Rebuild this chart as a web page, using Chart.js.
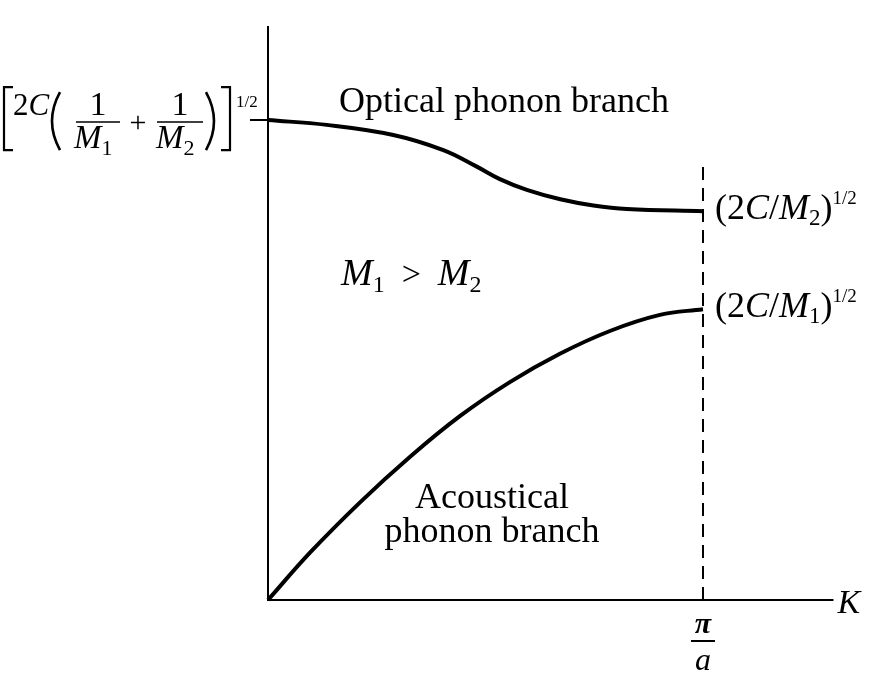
<!DOCTYPE html>
<html>
<head>
<meta charset="utf-8">
<script src="https://cdn.jsdelivr.net/npm/chart.js@4/dist/chart.umd.min.js"></script>
<style>body{margin:0;background:#fff}</style>
</head>
<body>
<canvas id="grafico" width="876" height="690"></canvas>
<script>
// K en unidades de pi/a, omega en unidades de [2C(1/M1+1/M2)]^1/2
const kOptica = [0, 0.135, 0.288, 0.403, 0.480, 0.533, 0.595, 0.672, 0.748, 0.825, 1.0];
const wOptica = [1.0, 0.990, 0.969, 0.9375, 0.903, 0.877, 0.8545, 0.835, 0.822, 0.8146, 0.810];
const kAcustica = [0, 0.097, 0.211, 0.326, 0.441, 0.556, 0.671, 0.786, 0.901, 1.0];
const wAcustica = [0, 0.099, 0.203, 0.298, 0.383, 0.454, 0.513, 0.5605, 0.594, 0.606];
const kZona = [1, 1];
const wZona = [0, 0.9125];
const kMax = 1.3;
const wMax = 1.196;

const SERIF = '"Liberation Serif", "DejaVu Serif", serif';

function puntos(xs, ys) {
    return xs.map((x, i) => ({ x: x, y: ys[i] }));
}

// dibuja trozos de texto seguidos: [texto, fuente, desplazamiento vertical]
function trozos(ctx, x, y, partes) {
    partes.forEach(p => {
        ctx.font = p[1];
        ctx.fillText(p[0], x, y + (p[2] || 0));
        x += ctx.measureText(p[0]).width;
    });
    return x;
}

const ejesPlugin = {
    id: 'ejes',
    afterDatasetsDraw(chart) {
        const ctx = chart.ctx;
        const sx = chart.scales.x, sy = chart.scales.y;
        const x0 = sx.getPixelForValue(0), y0 = sy.getPixelForValue(0);
        const xEnd = sx.getPixelForValue(kMax), yTop = sy.getPixelForValue(wMax);
        const xZ = sx.getPixelForValue(1);
        const yOpt0 = sy.getPixelForValue(wOptica[0]);
        const yOpt1 = sy.getPixelForValue(wOptica[wOptica.length - 1]);
        const yAc1 = sy.getPixelForValue(wAcustica[wAcustica.length - 1]);

        ctx.save();
        ctx.strokeStyle = '#000';
        ctx.fillStyle = '#000';
        ctx.lineWidth = 2;
        ctx.beginPath();
        ctx.moveTo(x0, yTop); ctx.lineTo(x0, y0 + 1);
        ctx.moveTo(x0 - 1, y0); ctx.lineTo(xEnd, y0);
        // marcas
        ctx.moveTo(x0 - 18, yOpt0); ctx.lineTo(x0, yOpt0);
        ctx.moveTo(xZ, y0); ctx.lineTo(xZ, y0 - 12);
        ctx.stroke();

        const FSS = '17px ' + SERIF;
        ctx.textBaseline = 'alphabetic';
        ctx.textAlign = 'left';

        // etiquetas de las ramas
        ctx.font = '36px ' + SERIF;
        ctx.textAlign = 'center';
        ctx.fillText('Optical phonon branch', 504, 112);
        ctx.fillText('Acoustical', 492, 508);
        ctx.fillText('phonon branch', 492, 542);
        ctx.textAlign = 'left';

        const FM = 'italic 38px ' + SERIF;
        trozos(ctx, 341, 285, [['M', FM], ['1', '24px ' + SERIF, 7], ['  >  ', '34px ' + SERIF],
            ['M', FM], ['2', '24px ' + SERIF, 7]]);

        // valores en la zona de Brillouin
        const FD = '36px ' + SERIF, FDI = 'italic 36px ' + SERIF;
        const der = [
            [yOpt1 + 8, '2'],
            [yAc1 + 8, '1']
        ];
        der.forEach(d => {
            trozos(ctx, xZ + 12, d[0], [['(', FD], ['2', FD], ['C', FDI], ['/', FD], ['M', FDI],
                [d[1], '23px ' + SERIF, 6], [')', FD], ['1/2', '19px ' + SERIF, -15]]);
        });

        // K y pi/a
        ctx.font = 'italic 34px ' + SERIF;
        ctx.fillText('K', xEnd + 4, y0 + 13);
        ctx.textAlign = 'center';
        ctx.font = 'bold italic 30px ' + SERIF;
        ctx.fillText('\u03c0', xZ, y0 + 33);
        ctx.font = 'italic 32px ' + SERIF;
        ctx.fillText('a', xZ, y0 + 70);
        ctx.beginPath();
        ctx.moveTo(xZ - 12, y0 + 41); ctx.lineTo(xZ + 12, y0 + 41);
        ctx.stroke();

        // [2C(1/M1 + 1/M2)]^1/2
        const yb = yOpt0;
        ctx.lineWidth = 2.2;
        ctx.beginPath();
        ctx.moveTo(13, yb - 33); ctx.lineTo(4, yb - 33); ctx.lineTo(4, yb + 30); ctx.lineTo(13, yb + 30);
        ctx.moveTo(221, yb - 33); ctx.lineTo(230, yb - 33); ctx.lineTo(230, yb + 30); ctx.lineTo(221, yb + 30);
        ctx.stroke();
        ctx.lineWidth = 2.6;
        ctx.beginPath();
        ctx.moveTo(60, yb - 28); ctx.quadraticCurveTo(44, yb + 1, 60, yb + 30);
        ctx.moveTo(206, yb - 28); ctx.quadraticCurveTo(222, yb + 1, 206, yb + 30);
        ctx.stroke();
        ctx.lineWidth = 1.6;
        ctx.beginPath();
        ctx.moveTo(76, yb + 2); ctx.lineTo(120, yb + 2);
        ctx.moveTo(157, yb + 2); ctx.lineTo(203, yb + 2);
        ctx.stroke();
        ctx.textAlign = 'left';
        trozos(ctx, 13, yb - 5, [['2', '31px ' + SERIF], ['C', 'italic 31px ' + SERIF]]);
        ctx.textAlign = 'center';
        ctx.font = '34px ' + SERIF;
        ctx.fillText('1', 98, yb - 5);
        ctx.fillText('1', 180, yb - 5);
        ctx.font = '30px ' + SERIF;
        ctx.fillText('+', 138, yb + 12);
        ctx.textAlign = 'left';
        trozos(ctx, 74, yb + 28, [['M', 'italic 33px ' + SERIF], ['1', '22px ' + SERIF, 7]]);
        trozos(ctx, 156, yb + 28, [['M', 'italic 33px ' + SERIF], ['2', '22px ' + SERIF, 7]]);
        trozos(ctx, 236, yb - 13, [['1/2', FSS]]);
        ctx.restore();
    }
};

const grafico = new Chart(document.getElementById('grafico'), {
    type: 'scatter',
    data: {
        datasets: [{
            label: 'Optical phonon branch',
            data: puntos(kOptica, wOptica),
            showLine: true,
            tension: 0.4,
            borderColor: '#000',
            borderWidth: 4,
            pointRadius: 0,
            clip: false
        }, {
            label: 'Acoustical phonon branch',
            data: puntos(kAcustica, wAcustica),
            showLine: true,
            tension: 0.4,
            borderColor: '#000',
            borderWidth: 4,
            pointRadius: 0,
            clip: false
        }, {
            label: 'pi/a',
            data: puntos(kZona, wZona),
            showLine: true,
            borderColor: '#000',
            borderWidth: 2,
            borderDash: [13, 8],
            pointRadius: 0,
            clip: false
        }]
    },
    options: {
        responsive: false,
        animation: false,
        devicePixelRatio: 1,
        layout: { padding: { left: 268, top: 26, right: 876 - 268 - kMax * 435, bottom: 90 } },
        scales: {
            x: { type: 'linear', min: 0, max: kMax, display: false },
            y: { type: 'linear', min: 0, max: wMax, display: false }
        },
        plugins: {
            legend: { display: false },
            tooltip: { enabled: false }
        }
    },
    plugins: [ejesPlugin]
});
</script>
</body>
</html>
